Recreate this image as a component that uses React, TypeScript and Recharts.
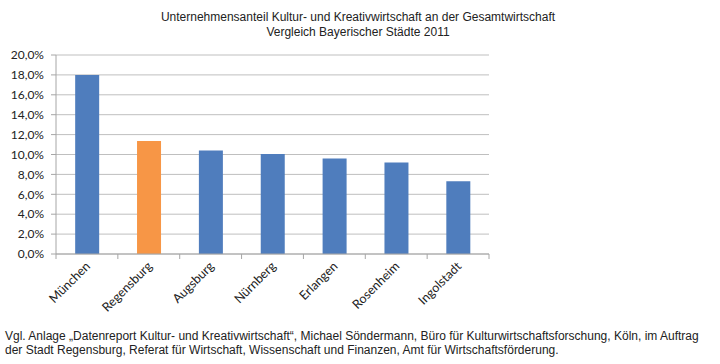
import { BarChart, Bar, XAxis, YAxis, CartesianGrid, Cell } from "recharts";

// Städte und Anteile (in %)
const cities = ["München", "Regensburg", "Augsburg", "Nürnberg", "Erlangen", "Rosenheim", "Ingolstadt"];
const shares = [18.0, 11.35, 10.4, 10.05, 9.6, 9.2, 7.3];
const highlight = "Regensburg";
const yTicks = [0, 2, 4, 6, 8, 10, 12, 14, 16, 18, 20];

const data = cities.map((city, i) => ({ city, share: shares[i] }));

const BLUE = "#4F7DBD";
const ORANGE = "#F79646";

const MARGIN = { top: 55, right: 231, left: 8, bottom: 0 };
const Y_WIDTH = 48;
const PLOT_W = 720 - MARGIN.left - MARGIN.right - Y_WIDTH;
const BAND = PLOT_W / cities.length;

const fmt = (v: number) => v.toFixed(1).replace(".", ",") + "%";

const CityTick = ({ x, y, payload, index }: any) => (
  <g>
    <line x1={x - BAND / 2} y1={y} x2={x - BAND / 2} y2={y + 5} stroke="#a6a6a6" />
    {index === cities.length - 1 && (
      <line x1={x + BAND / 2} y1={y} x2={x + BAND / 2} y2={y + 5} stroke="#a6a6a6" />
    )}
    <text
      x={x + 4}
      y={y + 13}
      textAnchor="end"
      transform={`rotate(-45, ${x + 4}, ${y + 13})`}
      fill="#222"
      style={{ fontSize: 12.5, fontFamily: "Lato" }}
    >
      {payload.value}
    </text>
  </g>
);

const App = () => (
  <div style={{ position: "absolute", left: 0, top: 0, width: 720, height: 364, background: "#fff" }}>
    <div
      style={{
        position: "absolute",
        left: 0,
        width: 716,
        top: 10,
        textAlign: "center",
        fontFamily: "Liberation Sans, Arial",
        fontSize: 12,
        lineHeight: "15px",
        color: "#222",
      }}
    >
      Unternehmensanteil Kultur- und Kreativwirtschaft an der Gesamtwirtschaft
      <br />
      Vergleich Bayerischer Städte 2011
    </div>
    <BarChart width={720} height={320} data={data} margin={MARGIN} barCategoryGap="31%">
      <CartesianGrid vertical={false} stroke="#bfbfbf" />
      <XAxis
        dataKey="city"
        height={66}
        interval={0}
        tickLine={false}
        tickSize={0}
        tickMargin={0}
        axisLine={{ stroke: "#a6a6a6" }}
        tick={<CityTick />}
      />
      <YAxis
        width={Y_WIDTH}
        domain={[0, 20]}
        ticks={yTicks}
        interval={0}
        tickFormatter={fmt}
        tickSize={5}
        tickMargin={7}
        axisLine={{ stroke: "#a6a6a6" }}
        tickLine={{ stroke: "#a6a6a6" }}
        tick={{ fill: "#222", fontSize: 12, fontFamily: "Lato" }}
      />
      <Bar dataKey="share" isAnimationActive={false}>
        {data.map((d) => (
          <Cell key={d.city} fill={d.city === highlight ? ORANGE : BLUE} />
        ))}
      </Bar>
    </BarChart>
    <div
      style={{
        position: "absolute",
        left: 5,
        top: 329,
        fontFamily: "Liberation Sans, Arial",
        fontSize: 12,
        lineHeight: "14px",
        color: "#222",
      }}
    >
      Vgl. Anlage „Datenreport Kultur- und Kreativwirtschaft“, Michael Söndermann, Büro für Kulturwirtschaftsforschung, Köln, im Auftrag
      <br />
      der Stadt Regensburg, Referat für Wirtschaft, Wissenschaft und Finanzen, Amt für Wirtschaftsförderung.
    </div>
  </div>
);

export default App;
